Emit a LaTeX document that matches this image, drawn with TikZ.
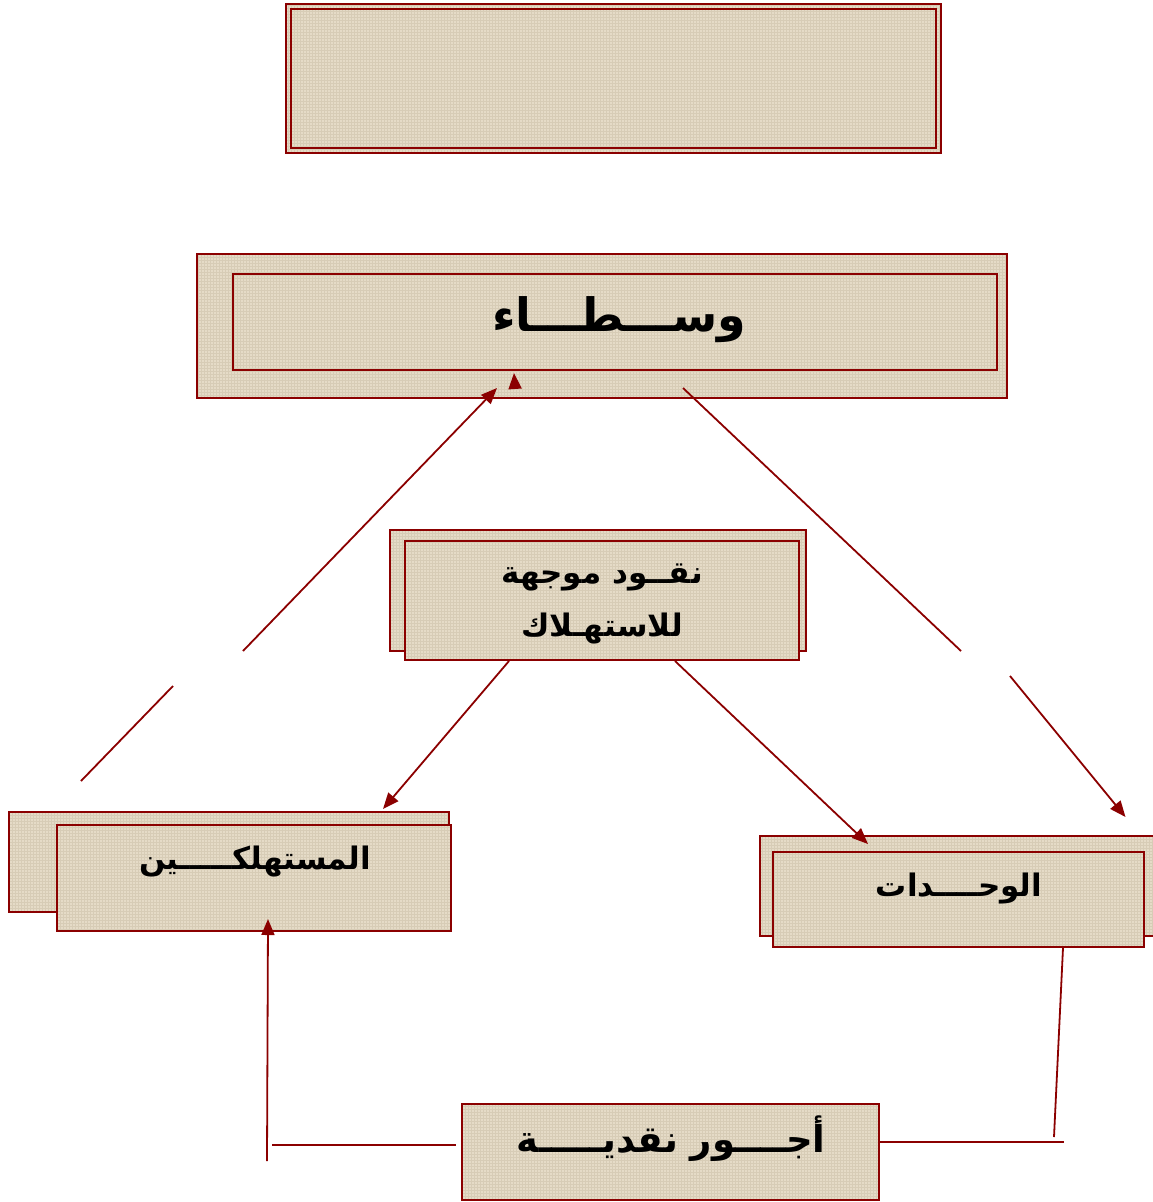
\documentclass[tikz,border=0pt]{standalone}
\usepackage{fontspec}
\usetikzlibrary{arrows.meta,patterns}
\newfontfamily\arabicfont[Script=Arabic]{DejaVu Sans}
\TeXXeTstate=1
\definecolor{dred}{RGB}{139,0,0}
\definecolor{linen}{RGB}{229,219,199}
\definecolor{linendk}{RGB}{215,204,182}
\tikzset{
  boxx/.style={draw=dred, line width=2pt, inner sep=0pt,
    preaction={fill=linen},
    preaction={pattern=grid, pattern color=linendk}},
  lbl/.style={font=\arabicfont\bfseries, text=black, align=center},
  conn/.style={draw=dred, line width=1.8pt},
  arr/.style={conn, -{Triangle[length=16pt,width=13pt]}}
}
\begin{document}
\begin{tikzpicture}[x=1pt,y=-1pt]
\useasboundingbox (0,0) rectangle (1153,1202);
% top box (double border)
\node[boxx, line width=1.5pt, minimum width=655pt, minimum height=149pt] (tout) at (613.5,78.5) {};
\node[draw=dred, line width=2.5pt, inner sep=0pt, minimum width=645pt, minimum height=139pt] (t) at (613.5,78.5) {};
% wusata
\node[boxx, minimum width=810pt, minimum height=144pt] (wback) at (602,326) {};
\node[draw=dred, line width=2pt, inner sep=0pt, minimum width=764pt, minimum height=96pt] (w) at (615,322) {};
\node[lbl, font=\arabicfont\bfseries\fontsize{46}{50}\selectfont] (wt) at (619,320) {\beginR وســـطـــاء\endR};
% nuqud
\node[boxx, minimum width=416pt, minimum height=121pt] (nback) at (598,590.5) {};
\node[boxx, minimum width=394pt, minimum height=119pt] (n) at (602,600.5) {};
\node[lbl, font=\arabicfont\bfseries\fontsize{31}{53}\selectfont] (nt) at (602,604) {\beginR نقــود موجهة\endR\\\beginR للاستهـلاك\endR};
% mustahlikin
\node[boxx, minimum width=440pt, minimum height=100pt] (mback) at (229,862) {};
\node[boxx, minimum width=394pt, minimum height=106pt] (m) at (254,878) {};
\node[lbl, font=\arabicfont\bfseries\fontsize{31}{36}\selectfont] (mt) at (255,862) {\beginR المستهلكـــــين\endR};
% wihdat
\node[boxx, minimum width=396pt, minimum height=100pt] (uback) at (958,886) {};
\node[boxx, minimum width=371pt, minimum height=95pt] (u) at (958.5,899.5) {};
\node[lbl, font=\arabicfont\bfseries\fontsize{31}{36}\selectfont] (ut) at (959,888) {\beginR الوحــــدات\endR};
% ujur
\node[boxx, minimum width=417pt, minimum height=96pt] (a) at (670.5,1152) {};
\node[lbl, font=\arabicfont\bfseries\fontsize{37}{42}\selectfont] (at) at (671,1139) {\beginR أجــــور نقديـــــة\endR};
% free ends
\coordinate (a1s) at (81,781);
\coordinate (a1e) at (173,686);
\coordinate (a2s) at (243,651);
\coordinate (b1e) at (961,651);
\coordinate (b2s) at (1010,676);
\coordinate (hs) at (515,388);
\coordinate (es) at (267,1161);
\coordinate (fs) at (272,1145);
\coordinate (ge) at (1054,1137);
\coordinate (he) at (1064,1142);
% connectors
\draw[conn] (a1s) -- (a1e);
\draw[arr] (a2s) -- ([xshift=-105pt,yshift=11pt]wback.south);
\draw[arr] (hs) -- ([xshift=-101pt,yshift=-2pt]w.south);
\draw[conn] ([xshift=81pt,yshift=11pt]wback.south) -- (b1e);
\draw[arr] (b2s) -- ([xshift=167.5pt,yshift=18pt]uback.north);
\draw[arr] ([xshift=-93pt]n.south) -- ([xshift=154pt,yshift=2pt]mback.north);
\draw[arr] ([xshift=73pt]n.south) -- ([xshift=-90pt,yshift=-9pt]uback.north);
\draw[arr] (es) -- ([xshift=14pt,yshift=13pt]m.south);
\draw[conn] (fs) -- ([xshift=-5pt,yshift=7pt]a.west);
\draw[conn] ([xshift=104.5pt]u.south) -- (ge);
\draw[conn] ([yshift=10pt]a.east) -- (he);
\end{tikzpicture}
\end{document}
